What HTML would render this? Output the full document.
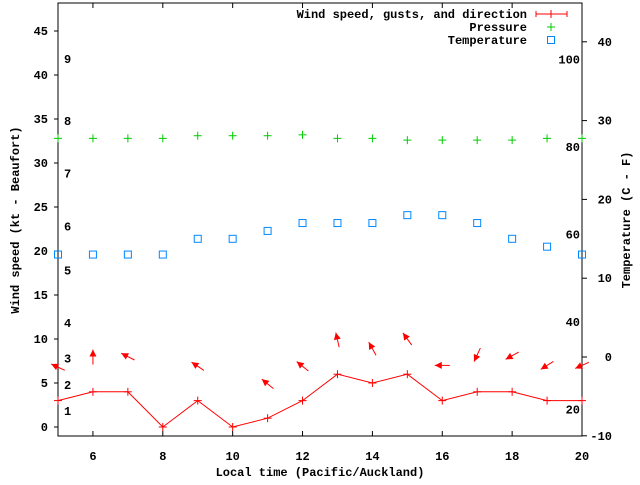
<!DOCTYPE html>
<html><head><meta charset="utf-8"><style>
html,body{margin:0;padding:0;background:#fff;}
svg text{font-family:"Liberation Mono","DejaVu Sans Mono",monospace;font-weight:bold;font-size:12px;fill:#000;}
</style></head><body>
<svg id="chart" width="640" height="480" xmlns="http://www.w3.org/2000/svg"></svg>
<script>
const hours=[5,6,7,8,9,10,11,12,13,14,15,16,17,18,19,20];
const windSpeed=[3,4,4,0,3,0,1,3,6,5,6,3,4,4,3,3];
const arrowHours=[5,6,7,9,11,12,13,14,15,16,17,18,19,20];
const arrowLevel=[6.8,7.95,8.0,6.9,4.9,6.9,9.9,8.9,10,7.0,8.2,8.1,7.0,7.0];
const arrowAngle=[155,90,153,146,141,141,103,119,126,180,245,209,212,204];
const pressure=[32.8,32.8,32.8,32.8,33.1,33.1,33.1,33.2,32.8,32.8,32.6,32.6,32.6,32.6,32.8,32.8];
const temperature=[13,13,13,13,15,15,16,17,17,17,18,18,17,15,14,13];
const xTicks=[6,8,10,12,14,16,18,20];
const yTicks=[0,5,10,15,20,25,30,35,40,45];
const y2Ticks=[-10,0,10,20,30,40];
const beaufortLabels=[1,2,3,4,5,6,7,8,9];
const beaufortKt=[1,4,7,11,17,22,28,34,41];
const fahrenheitLabels=[20,40,60,80,100];

const L=58,R=582,T=3,B=436;
const X=h=>L+(h-5)*(R-L)/15;
const Y=v=>427-v*8.8;
const Y2=c=>357-c*7.88;
const svg=document.getElementById('chart');
const NS='http://www.w3.org/2000/svg';
function mk(tag,attrs,parent){const e=document.createElementNS(NS,tag);for(const k in attrs)e.setAttribute(k,attrs[k]);(parent||svg).appendChild(e);return e;}
function txt(s,x,y,anchor,parent){const t=mk('text',{x:x,y:y,'text-anchor':anchor||'start'},parent);t.textContent=s;return t;}

// frame
const frame=mk('rect',{x:L,y:T,width:R-L,height:B-T,fill:'none',stroke:'#000','stroke-width':1});



xTicks.forEach(h=>{
  mk('line',{x1:X(h),y1:B,x2:X(h),y2:B-5,stroke:'#000'});
  mk('line',{x1:X(h),y1:T,x2:X(h),y2:T+5,stroke:'#000'});
  const t=txt(String(h),X(h),460,'middle');
  
  
});
yTicks.forEach(v=>{
  mk('line',{x1:L-4,y1:Y(v),x2:L,y2:Y(v),stroke:'#000'});
  const t=txt(String(v),L-10,Y(v)+4,'end');
  
  
});
y2Ticks.forEach(v=>{
  mk('line',{x1:R,y1:Y2(v),x2:R+5,y2:Y2(v),stroke:'#000'});
  const t=txt(String(v),R+30,Y2(v)+4,'end');
  
  
});
beaufortLabels.forEach((b,i)=>{
  const t=txt(String(b),64,Y(beaufortKt[i])-3,'start');
  
  
});
fahrenheitLabels.forEach(f=>{
  const t=txt(String(f),R-2,Y2((f-32)*5/9)+4,'end');
  
  
});

// axis titles
let t=txt('Local time (Pacific/Auckland)',320,476,'middle');


t=txt('Wind speed (kt - Beaufort)',0,0,'middle');
t.setAttribute('transform','translate(19,220) rotate(-90)');


t=txt('Temperature (C - F)',0,0,'middle');
t.setAttribute('transform','translate(630,220) rotate(-90)');



function plus(x,y,c,name){const g=mk('g',{stroke:c,'stroke-width':1});
  mk('line',{x1:x-4,y1:y,x2:x+4,y2:y},g);mk('line',{x1:x,y1:y-4,x2:x,y2:y+4},g);
  
  return g;}

// wind line
const pts=hours.map((h,i)=>X(h)+','+Y(windSpeed[i])).join(' ');
const wl=mk('polyline',{points:pts,fill:'none',stroke:'#f00','stroke-width':1});


hours.forEach((h,i)=>plus(X(h),Y(windSpeed[i]),'#f00','wind-speed-point'));

// arrows
arrowHours.forEach((h,i)=>{
  const a=arrowAngle[i]*Math.PI/180,len=15;
  const cx=X(h),cy=Y(arrowLevel[i]);
  const dx=Math.cos(a)*len/2,dy=-Math.sin(a)*len/2;
  const hx=cx+dx,hy=cy+dy,tx=cx-dx,ty=cy-dy;
  const g=mk('g',{});
  
  
  mk('line',{x1:tx,y1:ty,x2:hx,y2:hy,stroke:'#f00','stroke-width':1},g);
  const ux=Math.cos(a),uy=-Math.sin(a),px=-uy,py=ux;
  const bx=hx-ux*7,by=hy-uy*7;
  mk('polygon',{points:`${hx},${hy} ${bx+px*3.5},${by+py*3.5} ${bx-px*3.5},${by-py*3.5}`,fill:'#f00'},g);
});

// pressure
hours.forEach((h,i)=>plus(X(h),Y(pressure[i]),'#0c0','pressure-point'));
// temperature
hours.forEach((h,i)=>{
  const r=mk('rect',{x:X(h)-3.5,y:Y2(temperature[i])-3.5,width:7,height:7,fill:'none',stroke:'#08f','stroke-width':1});
  
  
});

// legend
const lg=mk('g',{});


t=txt('Wind speed, gusts, and direction',527,18,'end',lg);


mk('line',{x1:536,y1:14,x2:567,y2:14,stroke:'#f00'},lg);
mk('line',{x1:536,y1:11,x2:536,y2:17,stroke:'#f00'},lg);
mk('line',{x1:567,y1:11,x2:567,y2:17,stroke:'#f00'},lg);
mk('line',{x1:551,y1:10,x2:551,y2:18,stroke:'#f00'},lg);
t=txt('Pressure',527,31,'end',lg);


plus(551,27,'#0c0','legend-pressure-symbol');
t=txt('Temperature',527,44,'end',lg);


mk('rect',{x:547.5,y:36.5,width:7,height:7,fill:'none',stroke:'#08f'},lg);
</script>
</body></html>
